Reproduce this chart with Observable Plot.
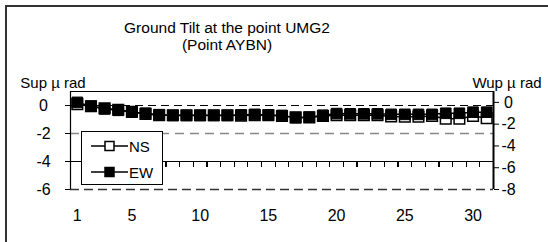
<!DOCTYPE html>
<html>
<head>
<meta charset="utf-8">
<script src="https://cdn.jsdelivr.net/npm/d3@7"></script>
<script src="https://cdn.jsdelivr.net/npm/@observablehq/plot@0.6"></script>
<style>
  html, body { margin: 0; padding: 0; background: #fff; overflow: hidden; }
  #wrap { position: relative; width: 548px; height: 242px; overflow: hidden; font-family: "Liberation Sans", Arial, sans-serif; color: #000; }
  #frame { position: absolute; left: 5px; top: 5px; width: 600px; height: 300px; border: 2px solid #333; box-sizing: border-box; }
  .t { position: absolute; white-space: nowrap; transform: translate(-50%, -50%); }
  #chart { position: absolute; left: 0; top: 0; }
  #legend { position: absolute; left: 81px; top: 131px; width: 82px; height: 54px; box-sizing: border-box; border: 1px solid #000; background: #fff; }
</style>
</head>
<body>
<div id="wrap">
  <div id="frame"></div>
  <div id="chart"></div>
  <div class="t" id="title1" style="left:227px; top:28px; font-size:15.5px;"></div>
  <div class="t" id="title2" style="left:227px; top:45px; font-size:15.5px;"></div>
  <div class="t" id="ylabL" style="left:53px; top:82px; font-size:15px;"></div>
  <div class="t" id="ylabR" style="left:507px; top:82px; font-size:15px;"></div>
  <div id="legend"></div>
</div>
<script>
// ---- data ----
const titleLines = ["Ground Tilt at the point UMG2", "(Point AYBN)"];
const leftLabel = "Sup µ rad";
const rightLabel = "Wup µ rad";
const seriesNames = ["NS", "EW"];
const days = [1,2,3,4,5,6,7,8,9,10,11,12,13,14,15,16,17,18,19,20,21,22,23,24,25,26,27,28,29,30,31];
const ns = [0.1,-0.05,-0.2,-0.3,-0.45,-0.6,-0.7,-0.7,-0.7,-0.7,-0.7,-0.7,-0.72,-0.7,-0.7,-0.75,-0.85,-0.85,-0.75,-0.7,-0.7,-0.7,-0.7,-0.78,-0.8,-0.8,-0.75,-0.95,-0.95,-0.75,-0.9];
const ew = [0.0,-0.35,-0.6,-0.73,-0.9,-1.0,-1.13,-1.2,-1.2,-1.2,-1.2,-1.2,-1.15,-1.1,-1.15,-1.2,-1.4,-1.36,-1.18,-1.03,-1.05,-1.05,-1.05,-1.1,-1.1,-1.1,-1.1,-1.0,-1.0,-0.9,-0.9];
const xTicks = [1,5,10,15,20,25,30];
const leftTicks = [-6,-4,-2,0];
const rightTicks = [-8,-6,-4,-2,0];
const leftDomain = [-6, 1];
const rightDomain = [-8, 1];
const axisCross = -4; // category axis crosses the primary axis here

// map secondary (right) axis values onto the primary scale
const toLeft = v => leftDomain[0] + (v - rightDomain[0]) * (leftDomain[1] - leftDomain[0]) / (rightDomain[1] - rightDomain[0]);
const fromLeft = v => rightDomain[0] + (v - leftDomain[0]) * (rightDomain[1] - rightDomain[0]) / (leftDomain[1] - leftDomain[0]);

const data = days.map((d, i) => ({day: d, ns: ns[i], ew: ew[i], ewL: toLeft(ew[i])}));
const bounds = days.map(d => ({b: d - 0.5}));

document.getElementById("title1").textContent = titleLines[0];
document.getElementById("title2").textContent = titleLines[1];
document.getElementById("ylabL").textContent = leftLabel;
document.getElementById("ylabR").textContent = rightLabel;

const plotH = 242 - 91 - 53;
const tickLen = 5 * (leftDomain[1] - leftDomain[0]) / plotH; // 5px expressed in y units

const chart = Plot.plot({
  width: 548,
  height: 242,
  marginLeft: 70,
  marginRight: 55,
  marginTop: 91,
  marginBottom: 53,
  x: {type: "linear", domain: [days[0] - 0.5, days[days.length - 1] + 0.5]},
  y: {domain: leftDomain},
  style: {fontFamily: "'Liberation Sans', Arial, sans-serif", fontSize: "16px", background: "transparent", overflow: "visible", color: "#000"},
  marks: [
    Plot.ruleY([leftTicks[3]], {stroke: "#000", strokeWidth: 1, strokeDasharray: "8,5"}),
    Plot.ruleY([leftTicks[2]], {stroke: "#888", strokeWidth: 1.5, strokeDasharray: "9,6"}),
    Plot.ruleY([leftTicks[0]], {stroke: "#333", strokeWidth: 1.5, strokeDasharray: "9,5"}),
    Plot.ruleY([leftDomain[1]], {stroke: "#000", strokeWidth: 1}),
    Plot.ruleY([axisCross], {stroke: "#000", strokeWidth: 1}),
    Plot.link(bounds, {x1: "b", x2: "b", y1: axisCross, y2: axisCross - tickLen, stroke: "#000", strokeWidth: 1.2, shapeRendering: "crispEdges"}),
    Plot.ruleX([days[0] - 0.5], {stroke: "#000", strokeWidth: 1.2}),
    Plot.ruleX([days[days.length - 1] + 0.5], {stroke: "#000", strokeWidth: 2}),
    Plot.axisY(leftTicks, {anchor: "left", tickSize: 5, tickPadding: 22, textAnchor: "middle", label: null, tickFormat: d => String(d)}),
    Plot.axisY(rightTicks.map(toLeft), {anchor: "right", tickSize: 5, tickPadding: 10, textAnchor: "middle", label: null, tickFormat: d => String(Math.round(fromLeft(d)))}),
    Plot.axisX(xTicks, {anchor: "bottom", tickSize: 0, tickPadding: 20, label: null, tickFormat: d => String(d)}),
    Plot.line(data, {x: "day", y: "ns", stroke: "#000", strokeWidth: 1.5}),
    Plot.dot(data, {x: "day", y: "ns", symbol: "square", r: 6, fill: "#fff", stroke: "#000", strokeWidth: 1.5}),
    Plot.line(data, {x: "day", y: "ewL", stroke: "#000", strokeWidth: 1.5}),
    Plot.dot(data, {x: "day", y: "ewL", symbol: "square", r: 6, fill: "#000", stroke: "#000", strokeWidth: 1})
  ]
});
document.getElementById("chart").appendChild(chart);

// legend
const lg = d3.select("#legend").append("svg").attr("width", 80).attr("height", 52);
const rows = [{name: seriesNames[0], fill: "#fff", y: 14}, {name: seriesNames[1], fill: "#000", y: 40}];
rows.forEach(r => {
  lg.append("line").attr("x1", 9).attr("x2", 46).attr("y1", r.y).attr("y2", r.y).attr("stroke", "#000").attr("stroke-width", 1.5);
  lg.append("rect").attr("x", 23).attr("y", r.y - 4.5).attr("width", 9).attr("height", 9).attr("fill", r.fill).attr("stroke", "#000").attr("stroke-width", 1.5);
  lg.append("text").attr("x", 47).attr("y", r.y + 5.5).attr("font-size", 15).attr("font-family", "'Liberation Sans', Arial, sans-serif").text(r.name);
});
</script>
</body>
</html>
